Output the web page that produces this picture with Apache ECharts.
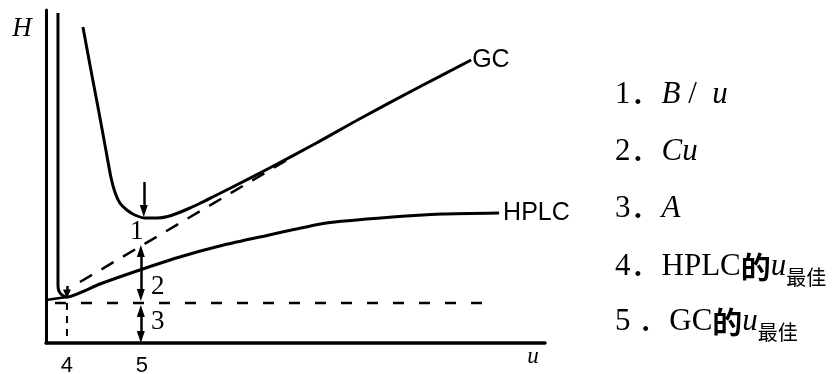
<!DOCTYPE html>
<html><head><meta charset="utf-8">
<script src="https://cdn.jsdelivr.net/npm/echarts@6/dist/echarts.min.js"></script>
<style>html,body{margin:0;padding:0;background:#fff}#c{width:836px;height:374px}</style>
</head><body><div id="c"></div>
<script>
// ---- data (u, H) ----
// GC curve
const gcU = [0.74,0.90,1.06,1.20,1.30,1.38,1.48,1.62,1.78,1.98,2.24,2.44,2.62,2.84,3.08,3.38,3.68,4.48,5.42,6.28,7.48,8.52];
const gcH = [6.32,5.46,4.62,3.86,3.32,3.02,2.80,2.66,2.56,2.50,2.50,2.53,2.59,2.68,2.79,2.94,3.09,3.50,4.00,4.48,5.12,5.66];
// GC: A + Cu (dashed asymptote)
const gcLinU = [0.68, 4.88];
const gcLinH = [1.22, 3.69];
// HPLC curve
const hplcU = [0.24,0.24,0.26,0.32,0.42,1.08,1.88,2.68,3.48,4.28,5.62,6.94,7.94,9.08];
const hplcH = [6.60,1.16,1.04,0.96,0.92,1.18,1.46,1.72,1.94,2.12,2.40,2.52,2.58,2.60];
const hplcStubU = [0.00, 0.42];
const hplcStubH = [0.86, 0.92];
// A term (horizontal dashed)
const aU = [0.18, 8.94];
const aH = [0.80, 0.80];
// drop line at HPLC u_opt
const dropU = [0.42, 0.42];
const dropH = [0.80, 0.00];
// arrows
const arrowU     = [1.96, 1.90, 1.90, 0.42];
const arrowFrom  = [3.22, 1.84, 0.64, 1.14];
const arrowTo    = [2.64, 0.96, 0.12, 0.98];
const arrowStart = ['none','triangle','triangle','none'];
const arrowEnd   = ['triangle','triangle','triangle','triangle'];
// term labels
const termU = [1.82, 2.24, 2.24];
const termH = [2.22, 1.12, 0.42];
const termText = ['1','2','3'];
// x tick labels
const tickValues = [0.42, 1.92];
const tickLabels = ['4','5'];
// legend text
const legendItems = [
  '{n|1．}{i|B}{n| /  }{i|u}',
  '{n|2．}{i|Cu}',
  '{n|3．}{i|A}',
  '{n|4．HPLC}{c|的}{i|u}{s|最佳}',
  '{n|5 ．GC}{c|的}{i|u}{s|最佳}'
];

const zip = (a, b) => a.map((v, i) => [v, b[i]]);
const serif = "'Liberation Serif','Times New Roman','Noto Sans CJK SC',serif";
const sans = "'Liberation Sans','DejaVu Sans',sans-serif";
const cjk = "'Noto Sans CJK SC',sans-serif";
const black = '#000';

const chart = echarts.init(document.getElementById('c'), null, {renderer: 'canvas'});
const rowY = [95, 152, 209, 267, 322];
chart.setOption({
  animation: false,
  backgroundColor: '#fff',
  grid: {left: 46, top: 10, right: 291, bottom: 31, containLabel: false, outerBoundsMode: 'none'},
  xAxis: {
    type: 'value', min: 0, max: 10,
    axisLine: {show: true, onZero: false, lineStyle: {color: black, width: 3.5}},
    axisTick: {show: false},
    splitLine: {show: false},
    axisLabel: {
      customValues: tickValues,
      margin: 12,
      color: black, fontSize: 22, fontFamily: sans,
      formatter: v => {
        let k = 0, d = 1e9;
        tickValues.forEach((t, i) => { if (Math.abs(t - v) < d) { d = Math.abs(t - v); k = i; } });
        return tickLabels[k];
      }
    }
  },
  yAxis: {
    type: 'value', min: 0, max: 6.66,
    axisLine: {show: true, onZero: false, lineStyle: {color: black, width: 3}},
    axisTick: {show: false},
    splitLine: {show: false},
    axisLabel: {show: false}
  },
  series: [
    {
      name: 'GC', type: 'line', data: zip(gcU, gcH), smooth: 0.25, symbol: 'none',
      lineStyle: {color: black, width: 3},
      endLabel: {show: true, formatter: p => p.seriesName, color: black, fontSize: 25, fontFamily: sans, distance: 1}
    },
    {
      name: 'GC A+Cu', type: 'line', data: zip(gcLinU, gcLinH), symbol: 'none',
      lineStyle: {color: black, width: 2.5, type: [14, 11]}
    },
    {
      name: 'HPLC', type: 'line', data: zip(hplcU, hplcH), smooth: 0.2, symbol: 'none',
      lineStyle: {color: black, width: 3},
      endLabel: {show: true, formatter: p => p.seriesName, color: black, fontSize: 25, fontFamily: sans, distance: 4}
    },
    {
      name: 'HPLC stub', type: 'line', data: zip(hplcStubU, hplcStubH), symbol: 'none',
      lineStyle: {color: black, width: 2.5}
    },
    {
      name: 'A', type: 'line', data: zip(aU, aH), symbol: 'none',
      lineStyle: {color: black, width: 2.5, type: [11, 15]}
    },
    {
      name: 'drop', type: 'line', data: zip(dropU, dropH), symbol: 'none',
      lineStyle: {color: black, width: 2, type: [7, 6]},
      markLine: {
        silent: true,
        symbol: ['none', 'none'],
        symbolSize: [8, 12],
        label: {show: false},
        lineStyle: {color: black, width: 2.5, type: 'solid'},
        emphasis: {disabled: true},
        data: arrowU.map((u, i) => [
          {coord: [u, arrowFrom[i]], symbol: arrowStart[i], symbolSize: i === 3 ? [8, 9] : [8, 12]},
          {coord: [u, arrowTo[i]], symbol: arrowEnd[i], symbolSize: i === 3 ? [8, 9] : [8, 12]}
        ])
      }
    }
  ]
});

// term numbers placed through the chart's own scales
const termEls = termU.map((u, i) => {
  const p = chart.convertToPixel({gridIndex: 0}, [u, termH[i]]);
  return {type: 'text', x: p[0], y: p[1], silent: true,
    style: {text: termText[i], fill: black, font: "27px 'Liberation Serif', serif", align: 'center', verticalAlign: 'middle'}};
});
chart.setOption({
  graphic: [
    {type: 'text', x: 22, y: 29, silent: true,
     style: {text: 'H', fill: black, font: "italic 27px 'Liberation Serif', serif", align: 'center', verticalAlign: 'middle'}},
    {type: 'text', x: 533, y: 357, silent: true,
     style: {text: 'u', fill: black, font: "italic 23px 'Liberation Serif', serif", align: 'center', verticalAlign: 'middle'}}
  ].concat(termEls).concat(legendItems.map((t, i) => ({
    type: 'text', x: 615, y: rowY[i], silent: true,
    style: {
      text: t, fill: black, align: 'left', verticalAlign: 'middle',
      rich: {
        n: {fontFamily: serif, fontSize: 31, lineHeight: 40, fill: black},
        i: {fontFamily: serif, fontStyle: 'italic', fontSize: 31, lineHeight: 40, fill: black},
        c: {fontFamily: cjk, fontSize: 30, lineHeight: 40, fill: black, fontWeight: 'bold'},
        s: {fontFamily: cjk, fontSize: 20, lineHeight: 22, verticalAlign: 'bottom', fill: black}
      }
    }
  })))
});
</script>
</body></html>
